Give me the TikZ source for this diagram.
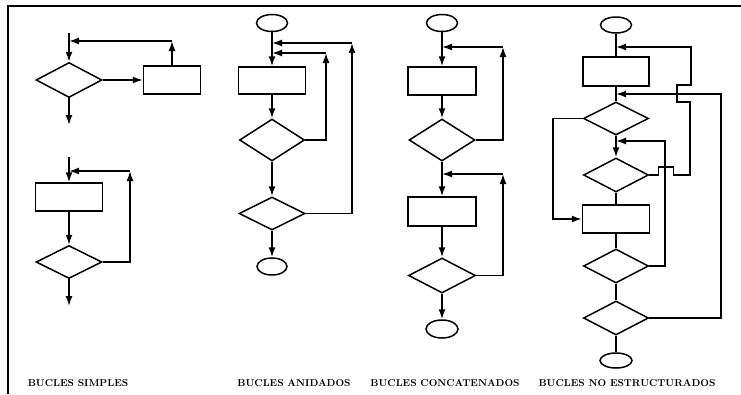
\documentclass[tikz,border=0pt]{standalone}
\usepackage{tikz}
\usetikzlibrary{shapes.geometric, arrows.meta}

\begin{document}
\begin{tikzpicture}[x=1pt, y=-1pt, line width=1.5pt,
    proc/.style={draw, rectangle, minimum width=66pt, minimum height=28pt, inner sep=0pt},
    cond/.style={draw, diamond, minimum width=65pt, minimum height=34pt, inner sep=0pt},
    term/.style={draw, ellipse, minimum width=31pt, minimum height=17pt, inner sep=0pt},
    flow/.style={-{Latex[length=10pt, width=7pt]}},
    title/.style={font=\bfseries}]
          \useasboundingbox (0,0) rectangle (741,394);
          \draw (8,394) -- (8,6) -- (741,6);

          % bucles simples
          \node[cond, minimum width=66pt, minimum height=35pt] (d1) at (69,80) {};
          \node[proc, minimum width=57pt] (r1) at (172,80) {};
          \coordinate (s1) at (69,33);
          \coordinate (j1) at (69,41);
          \coordinate (c1) at (r1.north |- j1);
          \coordinate (e1) at (69,125);
          \draw[flow] (s1) -- (d1.north);
          \draw[flow] (d1.east) -- (r1.west);
          \draw[flow] (r1.north) -- (c1);
          \draw[flow] (c1) -- (j1);
          \draw[flow] (d1.south) -- (e1);

          \node[proc, minimum width=67pt] (r2) at (69,197) {};
          \node[cond, minimum width=66pt, minimum height=33pt] (d2) at (69,262) {};
          \coordinate (s2) at (69,157);
          \coordinate (j2) at (69,171);
          \coordinate (c2) at (130,171);
          \coordinate (e2) at (69,306);
          \draw[flow] (s2) -- (r2.north);
          \draw[flow] (r2.south) -- (d2.north);
          \draw[flow] (d2.east) -| (c2);
          \draw[flow] (c2) -- (j2);
          \draw[flow] (d2.south) -- (e2);

          % bucles anidados
          \node[term] (t1) at (272,23) {};
          \node[proc, minimum width=67pt, minimum height=27pt] (r3) at (272,80.5) {};
          \node[cond, minimum height=42pt] (d3) at (272,140) {};
          \node[cond, minimum width=66pt, minimum height=33pt] (d4) at (272,213.5) {};
          \node[term, minimum width=30pt] (t2) at (272,266.5) {};
          \coordinate (j3) at (272,43);
          \coordinate (c3) at (352,43);
          \coordinate (j4) at (272,53);
          \coordinate (c4) at (326,53);
          \draw[flow] (t1.south) -- (r3.north);
          \draw[flow] (r3.south) -- (d3.north);
          \draw[flow] (d3.south) -- (d4.north);
          \draw[flow] (d4.south) -- (t2.north);
          \draw[flow] (d3.east) -| (c4);
          \draw[flow] (c4) -- (j4);
          \draw[flow] (d4.east) -| (c3);
          \draw[flow] (c3) -- (j3);

          % bucles concatenados
          \node[term] (t3) at (442,23) {};
          \node[proc, minimum width=68pt] (r4) at (442,81) {};
          \node[cond, minimum width=66pt, minimum height=42pt] (d5) at (442,140) {};
          \node[proc, minimum width=68pt, minimum height=29pt] (r5) at (442,211.5) {};
          \node[cond, minimum width=67pt, minimum height=35pt] (d6) at (442,275.5) {};
          \node[term, minimum width=32pt, minimum height=18pt] (t4) at (442,329) {};
          \coordinate (j5) at (442,47);
          \coordinate (c5) at (503,47);
          \coordinate (j6) at (442,174);
          \coordinate (c6) at (503,174);
          \draw[flow] (t3.south) -- (r4.north);
          \draw[flow] (r4.south) -- (d5.north);
          \draw[flow] (d5.south) -- (r5.north);
          \draw[flow] (r5.south) -- (d6.north);
          \draw[flow] (d6.south) -- (t4.north);
          \draw[flow] (d5.east) -| (c5);
          \draw[flow] (c5) -- (j5);
          \draw[flow] (d6.east) -| (c6);
          \draw[flow] (c6) -- (j6);

          % bucles no estructurados
          \node[term, minimum height=16pt] (t5) at (616,25) {};
          \node[proc, minimum height=29pt] (r6) at (616,71.5) {};
          \node[cond, minimum height=33pt] (d7) at (616,118.5) {};
          \node[cond] (d8) at (616,175) {};
          \node[proc, minimum width=67pt] (r7) at (616,219) {};
          \node[cond] (d9) at (616,266) {};
          \node[cond] (d10) at (616,318) {};
          \node[term, minimum width=32pt, minimum height=15pt] (t6) at (616,360.5) {};
          \draw (t5.south) -- (r6.north);
          \draw (r6.south) -- (d7.north);
          \draw[flow] (d7.south) -- (d8.north);
          \draw (d8.south) -- (r7.north);
          \draw (r7.south) -- (d9.north);
          \draw (d9.south) -- (d10.north);
          \draw (d10.south) -- (t6.north);
          \coordinate (c7) at (553,118.5);
          \draw[flow] (d7.west) -- (c7) |- (r7.west);
          \coordinate (j7) at (616,47);
          \coordinate (h1) at (690,175);
          \coordinate (h2) at (677,102);
          \coordinate (h3) at (691,85);
          \draw[flow] (d8.east) -- ++(9,0) -- ++(0,-8) -- ++(15,0) -- ++(0,8)
            -- (h1) |- (h2) |- (h3) |- (j7);
          \coordinate (j8) at (616,141);
          \coordinate (c8) at (665,141);
          \draw[flow] (d9.east) -| (c8) -- (j8);
          \coordinate (j9) at (616,94);
          \coordinate (c9) at (721,94);
          \draw[flow] (d10.east) -| (c9) -- (j9);

          \node[title] (l1) at (78,383) {BUCLES SIMPLES};
          \node[title] (l2) at (294,383) {BUCLES ANIDADOS};
          \node[title] (l3) at (445,383) {BUCLES CONCATENADOS};
          \node[title] (l4) at (627,383) {BUCLES NO ESTRUCTURADOS};
        \end{tikzpicture}
\end{document}
